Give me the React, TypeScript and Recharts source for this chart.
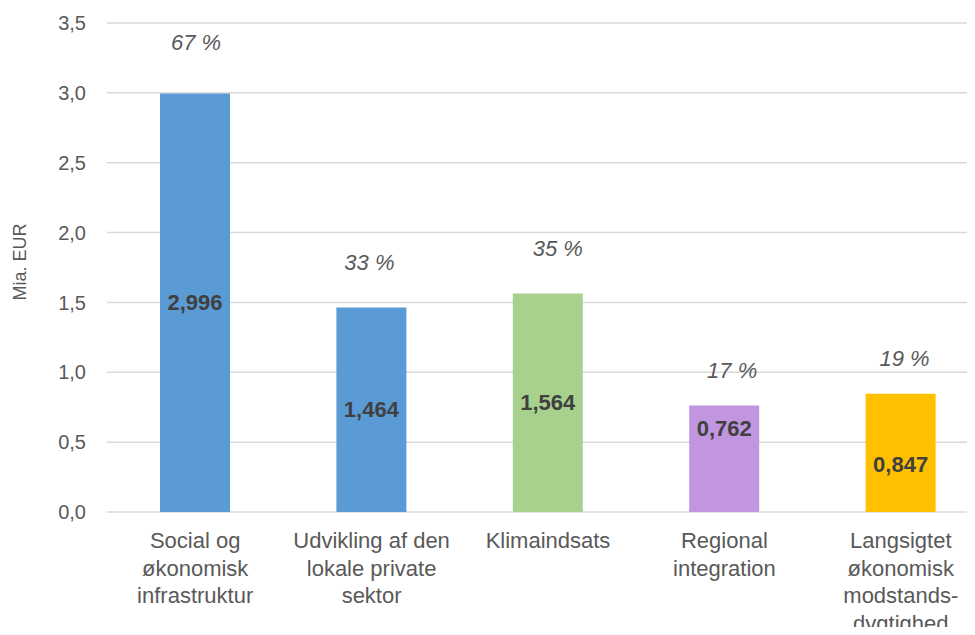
import React from 'react';
import { BarChart, Bar, XAxis, YAxis, CartesianGrid, LabelList, Cell, Label } from 'recharts';

const categories = [
  'Social og\nøkonomisk\ninfrastruktur',
  'Udvikling af den\nlokale private\nsektor',
  'Klimaindsats',
  'Regional\nintegration',
  'Langsigtet\nøkonomisk\nmodstands-\ndygtighed',
];
const amounts = [2.996, 1.464, 1.564, 0.762, 0.847];
const shares = [67, 33, 35, 17, 19];
const yTicks = [0, 0.5, 1, 1.5, 2, 2.5, 3, 3.5];

// styling
const barColors = ['#5B9BD5', '#5B9BD5', '#A9D18E', '#C195DF', '#FFC000'];
const shareNudge = [[1, 51], [-2, 45], [10, 45], [8, 35], [4, 35]];
const valueNudge = [0, 0, 0, -30, 12];
const FONT = '"Liberation Sans", Arial, sans-serif';
const GREY = '#595959';

const data = categories.map((name, i) => ({ name, amount: amounts[i], share: shares[i] }));

const comma = (v: number, d: number) => v.toFixed(d).replace('.', ',');

function CategoryTick(props: any) {
  const { x, y, payload } = props;
  const lines = String(payload.value).split('\n');
  return (
    <text x={x} y={y + 28} textAnchor="middle" fill={GREY} fontSize={22} fontFamily={FONT}>
      {lines.map((l, i) => (
        <tspan key={i} x={x} dy={i === 0 ? 0 : 27.5}>
          {l}
        </tspan>
      ))}
    </text>
  );
}

function ValueLabel(props: any) {
  const { x, y, width, height, value, index } = props;
  const cy = y + height / 2 + (valueNudge[index] || 0);
  return (
    <text x={x + width / 2} y={cy} textAnchor="middle" dominantBaseline="central"
      fill="#404040" fontSize={22} fontWeight="bold" fontFamily={FONT}>
      {comma(value, 3)}
    </text>
  );
}

function ShareLabel(props: any) {
  const { x, y, width, value, index } = props;
  const [dx, lift] = shareNudge[index] || [0, 40];
  return (
    <text x={x + width / 2 + dx} y={y - lift} textAnchor="middle" dominantBaseline="central"
      fill={GREY} fontSize={22} fontStyle="italic" fontFamily={FONT}>
      {value} %
    </text>
  );
}

export default function App() {
  return (
    <div style={{ margin: -8, width: 975, height: 635, overflow: 'hidden', background: '#fff' }}>
      <BarChart width={990} height={635} data={data}
        margin={{ top: 23, right: 1, bottom: 0, left: 0 }}>
        <CartesianGrid vertical={false} stroke="#D9D9D9" strokeWidth={1.5} />
        <XAxis dataKey="name" axisLine={false} tickLine={false} height={123}
          interval={0} tick={<CategoryTick />} />
        <YAxis width={107} domain={[0, 3.5]} ticks={yTicks} axisLine={false} tickLine={false}
          tickSize={0} tickMargin={21} tickFormatter={(v: number) => comma(v, 1)}
          tick={{ fill: GREY, fontSize: 20, fontFamily: FONT }}>
          <Label content={() => (
            <text x={20} y={262} transform="rotate(-90, 20, 262)" textAnchor="middle"
              dominantBaseline="central" fill={GREY} fontSize={18} fontFamily={FONT}>
              Mia. EUR
            </text>
          )} />
        </YAxis>
        <Bar dataKey="amount" barSize={70} isAnimationActive={false}>
          {data.map((d, i) => (
            <Cell key={d.name} fill={barColors[i]} />
          ))}
          <LabelList dataKey="amount" content={<ValueLabel />} />
          <LabelList dataKey="share" content={<ShareLabel />} />
        </Bar>
      </BarChart>
    </div>
  );
}
